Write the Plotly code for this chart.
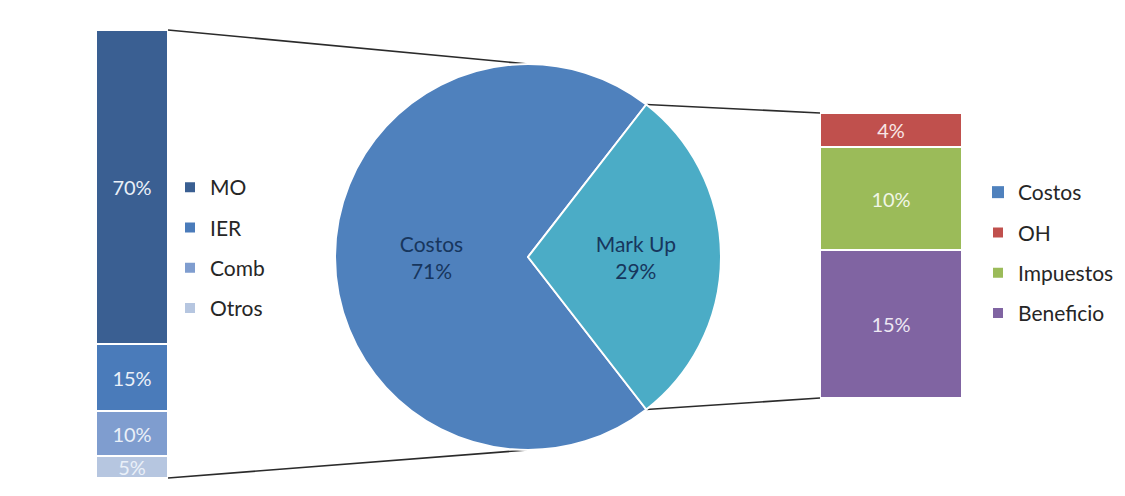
import math
import plotly.graph_objects as go

W, H = 1125, 496

# ---------------- data ----------------
# left stacked bar (composition of "Costos"), listed bottom -> top
cost_cats = ["Otros", "Comb", "IER", "MO"]
cost_vals = [5, 10, 15, 70]
cost_text = ["5%", "10%", "15%", "70%"]

# pie
pie_labels = ["Costos", "Mark Up"]
pie_vals = [71, 29]

# right stacked bar (composition of "Mark Up"), listed bottom -> top
mk_cats = ["Beneficio", "Impuestos", "OH", "Costos"]
mk_vals = [15.1, 10.4, 3.5, 0]
mk_text = ["15%", "10%", "4%", ""]

# ---------------- styles ----------------
cost_colors = ["#B6C6E0", "#7F9DCF", "#4A7BBA", "#3A5F92"]
pie_colors = ["#4F81BD", "#4BACC6"]
mk_colors = ["#8064A2", "#9BBB59", "#C0504D", "#4F81BD"]
mk_textcolors = ["#EDE8F3", "#F1F6E6", "#F8E6E5", "#FFFFFF"]
FONT = "Lato"

# pixel layout helpers
def px(x):
    return x / W

def py(y):
    return 1 - y / H

LB = dict(x0=96, x1=168, y0=30, y1=478)      # left bar box (px)
RB = dict(x0=820, x1=962, y0=113, y1=398)    # right bar box (px)
PC = dict(cx=528, cy=257, r=193)             # pie centre/radius (px)

fig = go.Figure()

# left bar
n = len(cost_cats)
for i, (cat, val, txt, col) in enumerate(zip(cost_cats, cost_vals, cost_text, cost_colors)):
    fig.add_trace(go.Bar(
        x=["Costos"], y=[val], name=cat, text=[txt],
        textposition="inside", insidetextanchor="middle",
        textfont=dict(family=FONT, size=20, color="#EAF0F8"),
        marker=dict(color=col, line=dict(color="#FFFFFF", width=2)),
        width=1, xaxis="x", yaxis="y",
        legend="legend", legendgroup="L" + cat, legendrank=n - i,
        hoverinfo="skip",
    ))

# right bar
m = len(mk_cats)
for i, (cat, val, txt, col, tc) in enumerate(zip(mk_cats, mk_vals, mk_text, mk_colors, mk_textcolors)):
    fig.add_trace(go.Bar(
        x=["Mark Up"], y=[val], name=cat, text=[txt],
        textposition="inside", insidetextanchor="middle",
        textfont=dict(family=FONT, size=20, color=tc),
        marker=dict(color=col, line=dict(color="#FFFFFF", width=2 if val > 0 else 0)),
        width=1, xaxis="x2", yaxis="y2",
        legend="legend2", legendgroup="R" + cat, legendrank=m - i,
        hoverinfo="skip",
    ))

# pie
total = sum(pie_vals)
mk_share = pie_vals[1] / total
rotation = 90 + mk_share * 360 / 2
fig.add_trace(go.Pie(
    labels=pie_labels, values=pie_vals, sort=False, direction="clockwise",
    rotation=rotation, textinfo="label+percent", textposition="inside",
    insidetextorientation="horizontal",
    textfont=dict(family=FONT, size=21, color="#17365D"),
    marker=dict(colors=pie_colors, line=dict(color="#FFFFFF", width=2)),
    domain=dict(x=[px(PC["cx"] - PC["r"]), px(PC["cx"] + PC["r"])],
                y=[py(PC["cy"] + PC["r"]), py(PC["cy"] - PC["r"])]),
    showlegend=False, hoverinfo="skip",
))

# connector lines
def pie_pt(angle_deg):
    a = math.radians(angle_deg)
    return PC["cx"] + PC["r"] * math.sin(a), PC["cy"] - PC["r"] * math.cos(a)

mk_start = rotation + (1 - mk_share) * 360 - 360
mk_end = mk_start + mk_share * 360
top_pt = pie_pt(0)
bot_pt = pie_pt(180)
r_top = pie_pt(mk_start)
r_bot = pie_pt(mk_end)

line_style = dict(color="#2B2B2B", width=1.6)
conn = [
    ((LB["x1"], LB["y0"]), top_pt),
    ((LB["x1"], LB["y1"]), bot_pt),
    (r_top, (RB["x0"], RB["y0"])),
    (r_bot, (RB["x0"], RB["y1"])),
]
shapes = []
for (xa, ya), (xb, yb) in conn:
    shapes.append(dict(type="line", xref="paper", yref="paper",
                       x0=px(xa), y0=py(ya), x1=px(xb), y1=py(yb),
                       line=line_style, layer="below"))

axis_off = dict(visible=False, showgrid=False, zeroline=False, fixedrange=True)
legend_common = dict(
    font=dict(family=FONT, size=21, color="#262626"),
    traceorder="grouped", tracegroupgap=10,
    bgcolor="rgba(0,0,0,0)", xanchor="left", yanchor="top",
    itemclick=False, itemdoubleclick=False,
)

fig.update_layout(
    width=W, height=H,
    margin=dict(l=0, r=0, t=0, b=0),
    paper_bgcolor="#FFFFFF", plot_bgcolor="#FFFFFF",
    barmode="stack", bargap=0,
    showlegend=True,
    uniformtext=dict(minsize=20, mode="show"),
    xaxis=dict(domain=[px(LB["x0"]), px(LB["x1"])], range=[-0.5, 0.5], **axis_off),
    yaxis=dict(domain=[py(LB["y1"]), py(LB["y0"])], range=[0, sum(cost_vals)], **axis_off),
    xaxis2=dict(domain=[px(RB["x0"]), px(RB["x1"])], range=[-0.5, 0.5], anchor="y2", **axis_off),
    yaxis2=dict(domain=[py(RB["y1"]), py(RB["y0"])], range=[0, sum(mk_vals)], anchor="x2", **axis_off),
    legend=dict(x=px(170), y=py(167), **legend_common),
    legend2=dict(x=px(978), y=py(172), **legend_common),
    shapes=shapes,
)

fig.write_html("out.html")
